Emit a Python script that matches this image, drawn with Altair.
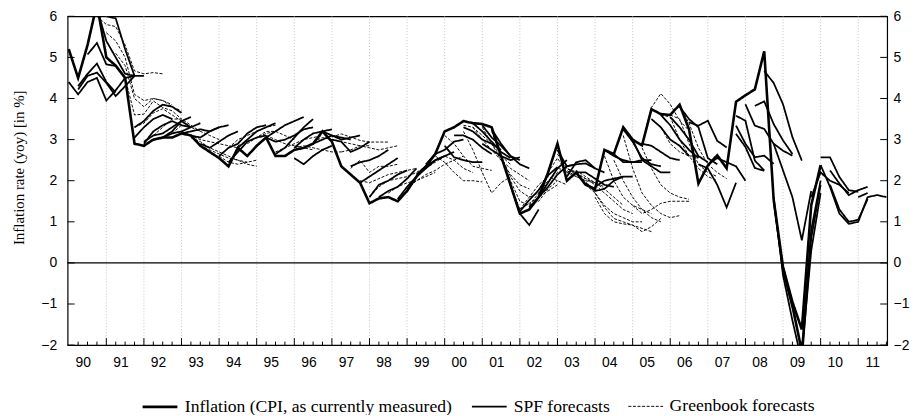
import altair as alt
import pandas as pd

# ---------------- data ----------------
START = 1990.0  # first quarter (1990Q1), quarters step 0.25

inflation_values = [
    5.2, 4.5, 5.3, 6.3,   5.0, 4.8, 4.5, 2.9,   2.85, 3.0, 3.05, 3.05,
    3.15, 3.1, 2.85, 2.7, 2.55, 2.35, 2.8, 2.6,  2.85, 3.05, 2.6, 2.6,
    2.75, 2.8, 2.9, 3.2,  2.95, 2.35, 2.15, 1.95, 1.45, 1.57, 1.6, 1.5,
    1.75, 2.1, 2.35, 2.65, 3.2, 3.3, 3.45, 3.4,  3.38, 3.3, 2.6, 1.9,
    1.2, 1.3, 1.6, 2.2,   2.9, 2.0, 2.2, 1.9,    1.8, 2.75, 2.65, 3.3,
    3.0, 2.86, 3.74, 3.62, 3.6, 3.85, 3.25, 1.93, 2.37, 2.62, 2.3, 3.92,
    4.08, 4.22, 5.15, 1.55, -0.1, -0.95, -1.62, 1.4, 2.38,
]

spf_starts = [
    1990.0, 1990.25, 1990.25, 1990.5, 1990.75, 1991.0,
    1991.75, 1991.75, 1992.0, 1992.0, 1992.25, 1992.5, 1993.0, 1993.25, 1993.5,
    1994.0, 1994.25, 1994.5, 1995.0, 1995.25, 1995.5, 1996.0, 1996.0, 1996.5,
    1996.75, 1997.0, 1997.5, 1997.75, 1998.0, 1998.25, 1998.75, 1999.25, 1999.5,
    2000.0, 2000.25, 2001.0, 2000.5, 2000.75, 2001.0, 2001.25,
    2001.75, 2002.0, 2002.25, 2002.5, 2003.0, 2003.25, 2003.5, 2003.75,
    2004.0, 2004.25, 2004.5, 2004.75, 2005.0, 2005.25, 2005.5, 2005.75, 2006.0,
    2006.25, 2006.5, 2006.75, 2007.0,
    2007.75, 2007.75, 2007.75, 2008.0, 2008.25, 2008.5, 2008.75,
    2008.75, 2008.75, 2009.0,
    2010.0, 2010.25, 2010.0, 2010.25, 2009.75, 2011.0,
]
spf_paths = [
    [4.4, 4.1, 4.4, 4.5, 3.95, 4.2, 4.5],
    [4.22, 4.55, 4.63, 4.38, 4.06, 4.3, 4.55],
    [4.3, 4.6, 4.85, 4.4, 4.15],
    [5.07, 5.35, 4.83, 4.79, 4.5, 4.55],
    [6.2, 5.4, 5.0, 4.6, 4.55],
    [6.0, 5.95, 5.2, 4.55, 4.55],
    [3.3, 3.45, 3.7, 3.85, 3.8, 3.65],
    [3.05, 3.3, 3.5, 3.6, 3.5],
    [2.9, 3.2, 3.35, 3.45, 3.35, 3.3],
    [2.95, 3.1, 3.15, 3.3, 3.45, 3.3],
    [3.0, 3.05, 3.2, 3.45, 3.55],
    [3.05, 3.15, 3.2, 3.3, 3.4],
    [3.15, 3.2, 3.25, 3.2, 3.3],
    [3.1, 3.05, 3.2, 3.3, 3.35],
    [2.9, 2.8, 2.95, 3.1, 3.2],
    [2.6, 2.8, 2.9, 3.15, 3.3, 3.35],
    [2.45, 2.7, 2.95, 3.05, 3.1],
    [2.8, 3.0, 3.2, 3.3, 3.4],
    [2.85, 3.05, 3.2, 3.35, 3.45, 3.55],
    [3.05, 2.95, 3.0, 3.1, 3.25, 3.3],
    [2.65, 2.8, 3.05, 3.3, 3.5],
    [2.55, 2.4, 2.6, 2.75, 2.85],
    [2.8, 3.0, 3.15, 3.2, 3.25],
    [2.9, 3.0, 3.1, 3.05, 3.0],
    [3.2, 3.1, 3.0, 3.05, 3.1],
    [3.0, 2.95, 2.7, 2.8, 2.95],
    [2.35, 2.45, 2.5, 2.6, 2.75],
    [1.95, 2.1, 2.25, 2.4, 2.55],
    [1.6, 1.9, 2.0, 2.15, 2.25],
    [1.6, 1.75, 1.85, 2.05, 2.3],
    [1.55, 1.85, 2.1, 2.3, 2.5, 2.6],
    [2.15, 2.35, 2.5, 2.6, 2.7],
    [2.4, 2.65, 2.75, 2.95, 3.0],
    [2.85, 2.57, 2.5, 2.45, 2.45],
    [3.1, 3.1, 3.0, 2.8, 2.65],
    [2.9, 2.75, 2.6, 2.5, 2.57],
    [3.3, 3.2, 3.0, 2.9, 2.75],
    [3.4, 3.2, 2.95, 2.7, 2.55],
    [3.35, 3.05, 2.85, 2.6, 2.5],
    [3.25, 2.9, 2.6, 2.4, 2.3],
    [1.9, 1.2, 0.92, 1.3],
    [1.25, 1.53, 1.77, 2.13, 2.33],
    [1.35, 1.6, 1.95, 2.3, 2.5],
    [1.6, 1.85, 2.15, 2.35, 2.4],
    [2.75, 2.35, 2.4, 2.42, 2.3],
    [2.1, 2.45, 2.5, 2.3, 2.2],
    [2.2, 2.2, 2.05, 1.9, 1.85],
    [1.95, 1.75, 1.8, 2.0, 2.1],
    [1.85, 2.0, 2.05, 2.1, 2.1],
    [2.75, 2.6, 2.5, 2.45, 2.45],
    [2.65, 2.45, 2.45, 2.5, 2.5],
    [3.25, 2.95, 2.55, 2.4, 2.35],
    [3.0, 2.5, 2.35, 2.2, 2.2],
    [2.9, 2.85, 2.7, 2.55, 2.5],
    [3.5, 3.3, 3.0, 2.85, 2.6],
    [3.6, 3.35, 3.0, 2.75, 2.55],
    [3.55, 3.3, 3.0, 2.6, 2.45],
    [3.8, 3.5, 3.3, 2.55, 2.4],
    [3.42, 3.34, 3.46, 2.97, 2.81],
    [2.4, 2.3, 1.9, 1.35, 1.95],
    [2.4, 2.55, 2.45, 2.35, 2.0],
    [3.58, 3.46, 2.49, 2.25],
    [3.34, 2.9, 2.57, 2.61, 2.41],
    [3.14, 2.82, 2.31, 2.24],
    [3.86, 3.34, 3.26, 2.9, 2.73, 2.61],
    [3.82, 3.93, 3.38, 2.98, 2.65],
    [4.67, 4.38, 3.86, 3.06, 2.49],
    [2.9, 2.25, 1.6, 0.55, 1.75],
    [1.6, -0.3, -1.4, -2.4, 0.6, 1.9],
    [1.5, -0.2, -1.1, -2.2, 0.3, 1.7],
    [-0.1, -1.0, -2.1, 0.8, 2.0],
    [2.57, 2.57, 2.09, 1.77, 1.73],
    [2.25, 1.93, 1.65, 1.77, 1.85],
    [2.38, 1.85, 1.2, 0.95, 1.0, 1.6, 1.65, 1.6],
    [1.9, 1.3, 1.0, 1.05, 1.55],
    [1.6, 2.2, 2.0, 1.9, 1.7],
    [1.6, 1.7],
]

gb_starts = [
    1990.75, 1991.0, 1991.25, 1991.5, 1991.75,
    1992.25, 1992.75, 1993.0, 1993.25, 1993.5, 1994.0, 1994.25, 1994.5, 1994.75,
    1995.25, 1995.5, 1996.0, 1996.5, 1997.0, 1997.25, 1997.5, 1997.75, 1998.0, 1998.5,
    1999.0, 1999.5, 1999.75, 2000.0, 2000.5, 2000.5, 2000.75, 2001.0, 2001.25, 2001.5,
    2001.75, 2002.0, 2002.25, 2002.5, 2002.75, 2003.0, 2003.25, 2003.5, 2003.75,
    2004.0, 2004.25, 2004.5, 2004.75, 2004.0, 2005.25, 2005.25, 2005.75, 2006.0,
    2005.5, 2005.0, 2006.25,
]
gb_paths = [
    [6.0, 5.8, 5.75, 5.3, 4.67, 4.6, 4.63, 4.6],
    [5.6, 5.4, 5.0, 4.1, 3.95, 4.0, 3.95, 3.85],
    [5.1, 4.8, 4.0, 3.8, 4.0, 3.95, 3.8, 3.7],
    [4.5, 3.6, 3.62, 3.94, 3.78, 3.7, 3.5],
    [3.3, 3.4, 3.65, 3.75, 3.6, 3.45, 3.3],
    [3.1, 3.3, 3.5, 3.5, 3.35, 3.2],
    [3.15, 3.35, 3.3, 3.2, 3.1, 3.0],
    [3.2, 3.1, 3.0, 2.95, 2.9, 2.85, 2.8],
    [3.05, 2.95, 2.8, 2.7, 2.6, 2.5, 2.45],
    [2.85, 2.75, 2.65, 2.55, 2.5, 2.4, 2.35],
    [2.6, 2.45, 2.4, 2.45, 2.5],
    [2.8, 3.0, 3.1, 3.2, 3.3, 3.35],
    [2.85, 2.95, 3.05, 3.15, 3.2, 3.35],
    [2.9, 3.05, 3.2, 3.2, 3.1, 3.0],
    [3.1, 3.0, 2.9, 2.85, 2.8, 2.75],
    [2.7, 2.8, 2.9, 3.0, 3.05, 3.1],
    [2.8, 2.85, 2.8, 2.75, 2.7, 2.7],
    [2.95, 3.05, 3.0, 2.95, 2.9, 2.85, 2.85],
    [3.06, 3.14, 3.06, 2.98, 2.94, 2.94, 2.94],
    [2.7, 2.75, 2.85, 2.8, 2.75, 2.8, 2.85],
    [2.3, 2.5, 2.2, 2.35, 2.35, 2.4],
    [2.0, 1.95, 2.05, 2.15, 2.2, 2.25, 2.3],
    [1.6, 1.85, 2.0, 2.05, 2.1, 2.2, 2.35, 2.5],
    [1.7, 1.85, 1.95, 2.0, 2.1, 2.2],
    [1.8, 2.0, 2.15, 2.25, 2.4, 2.5, 2.6],
    [2.3, 2.45, 2.6, 2.5, 2.3, 2.2],
    [2.6, 2.45, 2.2, 2.0, 2.0, 1.97],
    [3.1, 2.9, 2.6, 2.35, 2.3, 2.25],
    [3.2, 2.75, 2.2, 1.7, 1.95, 2.1],
    [3.35, 3.3, 3.1, 2.9, 2.6, 2.4],
    [3.3, 3.0, 2.75, 2.5, 2.3, 2.15, 2.0],
    [3.3, 2.9, 2.5, 2.15, 1.9, 1.8],
    [3.2, 2.6, 2.1, 1.75, 1.6, 1.7],
    [2.6, 2.0, 1.5, 1.4, 1.5, 1.8, 2.0],
    [1.9, 1.3, 1.45, 1.6, 1.75, 1.9],
    [1.3, 1.6, 1.9, 2.1, 2.0, 1.9],
    [1.4, 1.7, 2.0, 2.2, 2.3, 2.2],
    [1.7, 1.95, 2.3, 2.25, 2.1, 2.0],
    [2.2, 2.55, 2.2, 2.1, 2.0, 1.95],
    [2.65, 2.3, 2.15, 2.05, 1.95, 1.85],
    [2.2, 2.25, 2.1, 1.95, 1.8, 1.6, 1.4],
    [2.2, 2.05, 1.9, 1.7, 1.5, 1.3, 1.2],
    [1.9, 1.7, 1.4, 1.2, 1.1, 1.0, 1.0],
    [1.7, 1.35, 1.08, 1.0, 0.92, 0.84, 0.76],
    [2.6, 2.0, 1.6, 1.4, 1.3, 1.2],
    [2.5, 2.0, 1.6, 1.3, 1.1, 1.0],
    [3.1, 2.3, 1.7, 1.4, 1.2, 1.1, 1.15],
    [1.6, 1.2, 1.0, 0.95, 0.92, 0.76, 0.88, 1.08],
    [2.8, 2.3, 1.9, 1.7, 1.6, 1.55],
    [2.9, 3.78, 4.12, 3.86, 3.46, 3.22],
    [3.6, 3.55, 3.0, 2.6, 2.3, 2.1, 2.0],
    [3.6, 3.5, 2.9, 2.4, 2.2, 2.1],
    [3.5, 3.3, 2.9, 2.7, 2.6, 2.6],
    [1.4, 1.2, 1.3, 1.45, 1.5, 1.5, 1.5],
    [3.8, 3.4, 2.8, 2.4, 2.2, 2.05],
]

series_labels = ["Inflation (CPI, as currently measured)", "SPF forecasts", "Greenbook forecasts"]
year_lines = list(range(1991, 2012))
label_years = [y + 0.375 for y in range(1990, 2012)]
y_ticks = [-2, -1, 0, 1, 2, 3, 4, 5, 6]

# ---------------- build tables ----------------
def build(starts, paths, label, prefix):
    rows = []
    for k, (s, p) in enumerate(zip(starts, paths)):
        for i, v in enumerate(p):
            rows.append({"t": s + 0.25 * i, "v": v, "id": f"{prefix}{k:03d}", "kind": label})
    return pd.DataFrame(rows)

infl_df = build([START], [inflation_values], series_labels[0], "inf")
spf_df = build(spf_starts, spf_paths, series_labels[1], "spf")
gb_df = build(gb_starts, gb_paths, series_labels[2], "gb")

quarters = [1990 + 0.25 * i for i in range(1, 88)]
tick_df = pd.DataFrame({"t": quarters,
                        "major": [abs(q - round(q)) < 1e-9 for q in quarters]})
grid_df = pd.DataFrame({"t": year_lines})
ytick_df = pd.DataFrame({"v": y_ticks})

W, H = 825, 331
XDOM = [1989.97, 2011.77]
xs = alt.Scale(domain=XDOM, nice=False, zero=False)
ys = alt.Scale(domain=[-2, 6], nice=False, zero=False)

SANS = "Liberation Sans"
SERIF = "Liberation Serif"

x_axis = alt.Axis(values=label_years, orient="bottom",
                  labelExpr="slice('' + floor(datum.value), 2)",
                  tickSize=0, domain=False, grid=False, title=None, labelFont=SANS,
                  labelFontSize=14, labelPadding=11, labelColor="black")
y_axis_left = alt.Axis(values=y_ticks, orient="left", tickSize=0, domain=False, grid=False,
                       title="Inflation rate (yoy) [in %]", titleFont=SERIF,
                       titleFontSize=15, titleFontWeight="normal", titleColor="black",
                       titleY=152, titlePadding=14, labelFont=SANS, labelFontSize=14,
                       labelPadding=11, labelColor="black")
y_axis_right = alt.Axis(values=y_ticks, orient="right", tickSize=0, domain=False,
                        grid=False, title=None, labelFont=SANS, labelFontSize=14,
                        labelPadding=6, labelColor="black")

legend = alt.Legend(title=None, orient="none", legendX=74, legendY=374,
                    direction="horizontal", symbolType="stroke", symbolSize=1225,
                    symbolStrokeColor="black", labelFont=SERIF, labelFontSize=17.7,
                    labelColor="black", labelLimit=0, columnPadding=16, labelOffset=6)
dash_scale = alt.Scale(domain=series_labels, range=[[1, 0], [1, 0], [3, 1.6]])
width_scale = alt.Scale(domain=series_labels, range=[2.6, 0.95, 1.1])

# axis-carrying base layer: the tick rules on the left edge (both x and y fields)
base_ticks = alt.Chart(ytick_df).transform_calculate(t0=str(XDOM[0])).mark_rule(
    color="black", strokeWidth=1).encode(
    x=alt.X("t0:Q", scale=xs, axis=x_axis),
    y=alt.Y("v:Q", scale=ys, axis=y_axis_left),
    x2=alt.value(7))

grid = alt.Chart(grid_df).mark_rule(color="#b5b5b5", strokeWidth=0.8,
                                    strokeDash=[1, 2]).encode(
    x=alt.X("t:Q", scale=xs, axis=None),
    y=alt.value(0), y2=alt.value(H))

zero_line = alt.Chart(ytick_df[ytick_df.v == 0]).mark_rule(
    color="black", strokeWidth=1.2).encode(
    y=alt.Y("v:Q", scale=ys, axis=None), x=alt.value(0), x2=alt.value(W))

right_axis = alt.Chart(ytick_df).mark_rule(color="black", strokeWidth=1).encode(
    y=alt.Y("v:Q", scale=ys, axis=y_axis_right), x=alt.value(W - 7), x2=alt.value(W))

major_ticks = alt.Chart(tick_df[tick_df.major]).mark_rule(color="black").encode(
    x=alt.X("t:Q", scale=xs, axis=None), y=alt.value(H), y2=alt.value(H - 7))
minor_ticks = alt.Chart(tick_df[~tick_df.major]).mark_rule(color="black").encode(
    x=alt.X("t:Q", scale=xs, axis=None), y=alt.value(H), y2=alt.value(H - 3.5))


def lines(df):
    return alt.Chart(df).mark_line(color="black", clip=True).encode(
        x=alt.X("t:Q", scale=xs, axis=None),
        y=alt.Y("v:Q", scale=ys, axis=None),
        detail="id:N",
        order="t:Q",
        strokeDash=alt.StrokeDash("kind:N", scale=dash_scale, legend=legend),
        strokeWidth=alt.StrokeWidth("kind:N", scale=width_scale, legend=legend),
    )


chart = alt.layer(
    base_ticks, grid, zero_line, lines(gb_df), lines(spf_df), lines(infl_df),
    major_ticks, minor_ticks, right_axis,
).resolve_axis(x="independent", y="independent").properties(
    width=W, height=H,
    autosize=alt.AutoSizeParams(type="none"),
    padding={"left": 60, "top": 7, "right": 24, "bottom": 69},
    background="white",
).configure_view(stroke="black", strokeWidth=1.2)

chart.save("out.html", embed_options={"renderer": "svg", "actions": False})
